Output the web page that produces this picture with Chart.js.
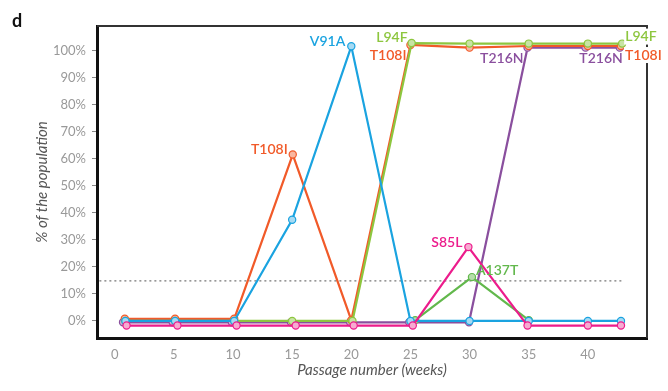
<!DOCTYPE html>
<html>
<head>
<meta charset="utf-8">
<script src="https://cdn.jsdelivr.net/npm/chart.js@4"></script>
<style>
  html, body { margin: 0; padding: 0; background: #fff; }
  #wrap { width: 668px; height: 391px; position: relative; }
</style>
</head>
<body>
<div id="wrap"><canvas id="chart"></canvas></div>
<script>
// passage numbers (weeks) per series, slightly offset as in the figure
const xBlue   = [0.9, 5.1, 10.1, 15, 20, 25, 30, 35, 40, 42.8];
const yBlue   = [0, 0, 0, 37.4, 101.5, 0, 0, 0, 0, 0];

const xOrange = [0.85, 5.1, 10.1, 15.05, 20, 25, 30, 35, 40, 42.8];
const yOrange = [0.8, 0.8, 0.8, 61.5, 0.3, 102, 101, 101.6, 101.6, 101.6];

const xL94F   = [0.9, 5.1, 10.1, 15, 20.1, 25.1, 30, 35, 40, 42.9];
const yL94F   = [0, 0, 0, 0, 0, 102.7, 102.5, 102.5, 102.5, 102.5];

const xA137T  = [25.4, 30.2, 35];
const yA137T  = [0.3, 16.2, 0.3];

const xT216N  = [0.7, 4.9, 9.9, 14.9, 19.9, 24.9, 29.95, 34.9, 39.8, 42.7];
const yT216N  = [-0.5, -0.5, -0.5, -0.5, -0.5, -0.5, -0.5, 101, 101, 101];

const xS85L   = [1.0, 5.3, 10.3, 15.3, 20.2, 25.2, 29.9, 34.9, 40, 42.8];
const yS85L   = [-1.7, -1.7, -1.7, -1.7, -1.7, -1.7, 27.3, -1.7, -1.7, -1.7];

const thresholdX = [-1.3, 43];
const thresholdY = [14.8, 14.8];

const xTicks = [0, 5, 10, 15, 20, 25, 30, 35, 40];
const yTicks = [0, 10, 20, 30, 40, 50, 60, 70, 80, 90, 100];

const pts = (xs, ys) => xs.map((x, i) => ({ x: x, y: ys[i] }));

function series(label, xs, ys, color, fill, order) {
  return {
    label: label,
    data: pts(xs, ys),
    borderColor: color,
    backgroundColor: fill,
    pointBackgroundColor: fill,
    pointBorderColor: color,
    pointBorderWidth: 1.2,
    pointRadius: 3.6,
    borderWidth: 2.2,
    tension: 0,
    order: order
  };
}

// text tags next to points: [text, dataset index, point index, dx, dy, align, color, white bg]
const tags = [
  ['V91A', 0, 4, -6, -5, 'right', '#1aa3e0', false],
  ['T108I', 1, 3, -5, -5, 'right', '#f15a29', false],
  ['L94F', 2, 5, -4, -6, 'right', '#8dc63f', false],
  ['T108I', 1, 5, -4, 11, 'right', '#f15a29', false],
  ['T216N', 4, 7, -4, 11, 'right', '#8a4f9e', false],
  ['T216N', 4, 9, 3, 11, 'right', '#8a4f9e', false],
  ['L94F', 2, 9, 3, -7, 'left', '#8dc63f', true],
  ['T108I', 1, 9, 4, 9, 'left', '#f15a29', true],
  ['S85L', 5, 6, -6, -5, 'right', '#ec1c8c', false],
  ['A137T', 3, 1, 4, -7, 'left', '#62b84c', false]
];

const framePlugin = {
  id: 'frame',
  beforeDatasetsDraw(chart) {
    const { ctx, chartArea: a } = chart;
    ctx.save();
    ctx.strokeStyle = '#333';
    ctx.lineWidth = 2;
    ctx.beginPath();
    ctx.moveTo(a.left, a.top);
    ctx.lineTo(a.right, a.top);
    ctx.lineTo(a.right, a.bottom);
    ctx.stroke();
    ctx.restore();
  },
  afterDatasetsDraw(chart) {
    const { ctx } = chart;
    ctx.save();
    ctx.font = '600 14px Lato';
    ctx.textBaseline = 'middle';
    tags.forEach(t => {
      const el = chart.getDatasetMeta(t[1]).data[t[2]];
      const x = el.x + t[3];
      const y = el.y + t[4];
      ctx.textAlign = t[5];
      if (t[7]) {
        const w = ctx.measureText(t[0]).width;
        ctx.fillStyle = '#fff';
        ctx.fillRect(t[5] === 'left' ? x - 1 : x - w - 1, y - 8, w + 2, 16);
      }
      ctx.fillStyle = t[6];
      ctx.fillText(t[0], x, y);
    });
    ctx.fillStyle = '#111';
    ctx.textAlign = 'left';
    ctx.textBaseline = 'alphabetic';
    ctx.font = 'bold 18px Lato';
    ctx.fillText('d', 12, 27);
    ctx.restore();
  }
};

new Chart(document.getElementById('chart'), {
  type: 'line',
  data: {
    datasets: [
      series('V91A', xBlue, yBlue, '#1aa3e0', '#a6daf3', 1.5),
      series('T108I', xOrange, yOrange, '#f15a29', '#f9b7a0', 3),
      series('L94F', xL94F, yL94F, '#8dc63f', '#c8e4a4', 2),
      series('A137T', xA137T, yA137T, '#62b84c', '#b6ddab', 5),
      series('T216N', xT216N, yT216N, '#8a4f9e', '#cbadd6', 6),
      series('S85L', xS85L, yS85L, '#ec1c8c', '#f7abd1', 1),
      {
        label: 'threshold',
        data: pts(thresholdX, thresholdY),
        borderColor: '#777',
        borderWidth: 1.3,
        borderDash: [2, 3],
        pointRadius: 0,
        order: 7
      }
    ]
  },
  options: {
    responsive: true,
    maintainAspectRatio: false,
    animation: false,
    layout: { padding: { top: 26, right: 21, left: 0, bottom: 0 } },
    plugins: {
      legend: { display: false },
      tooltip: { enabled: false }
    },
    scales: {
      x: {
        type: 'linear',
        min: -1.5,
        max: 45,
        afterFit: s => { s.height = 53; },
        afterBuildTicks: s => { s.ticks = xTicks.map(v => ({ value: v })); },
        grid: { display: false, drawTicks: false },
        border: { display: true, color: '#111', width: 3 },
        ticks: { color: '#999', padding: 9, font: { family: 'Lato', size: 13 } },
        title: {
          display: true,
          text: 'Passage number (weeks)',
          color: '#555',
          font: { family: 'Lato', size: 15, style: 'italic' },
          padding: { top: 0, bottom: 12 }
        }
      },
      y: {
        min: -6.3,
        max: 109,
        afterFit: s => { s.width = 97; },
        afterBuildTicks: s => { s.ticks = yTicks.map(v => ({ value: v })); },
        grid: { drawOnChartArea: false, drawTicks: true, tickLength: 5, color: '#888' },
        border: { display: true, color: '#111', width: 3 },
        ticks: {
          color: '#999',
          padding: 6,
          font: { family: 'Lato', size: 13 },
          callback: v => v + '%'
        },
        title: {
          display: true,
          text: '% of the population',
          color: '#555',
          font: { family: 'Lato', size: 15, style: 'italic' },
          padding: { top: 33, bottom: 0 }
        }
      }
    }
  },
  plugins: [framePlugin]
});
</script>
</body>
</html>
